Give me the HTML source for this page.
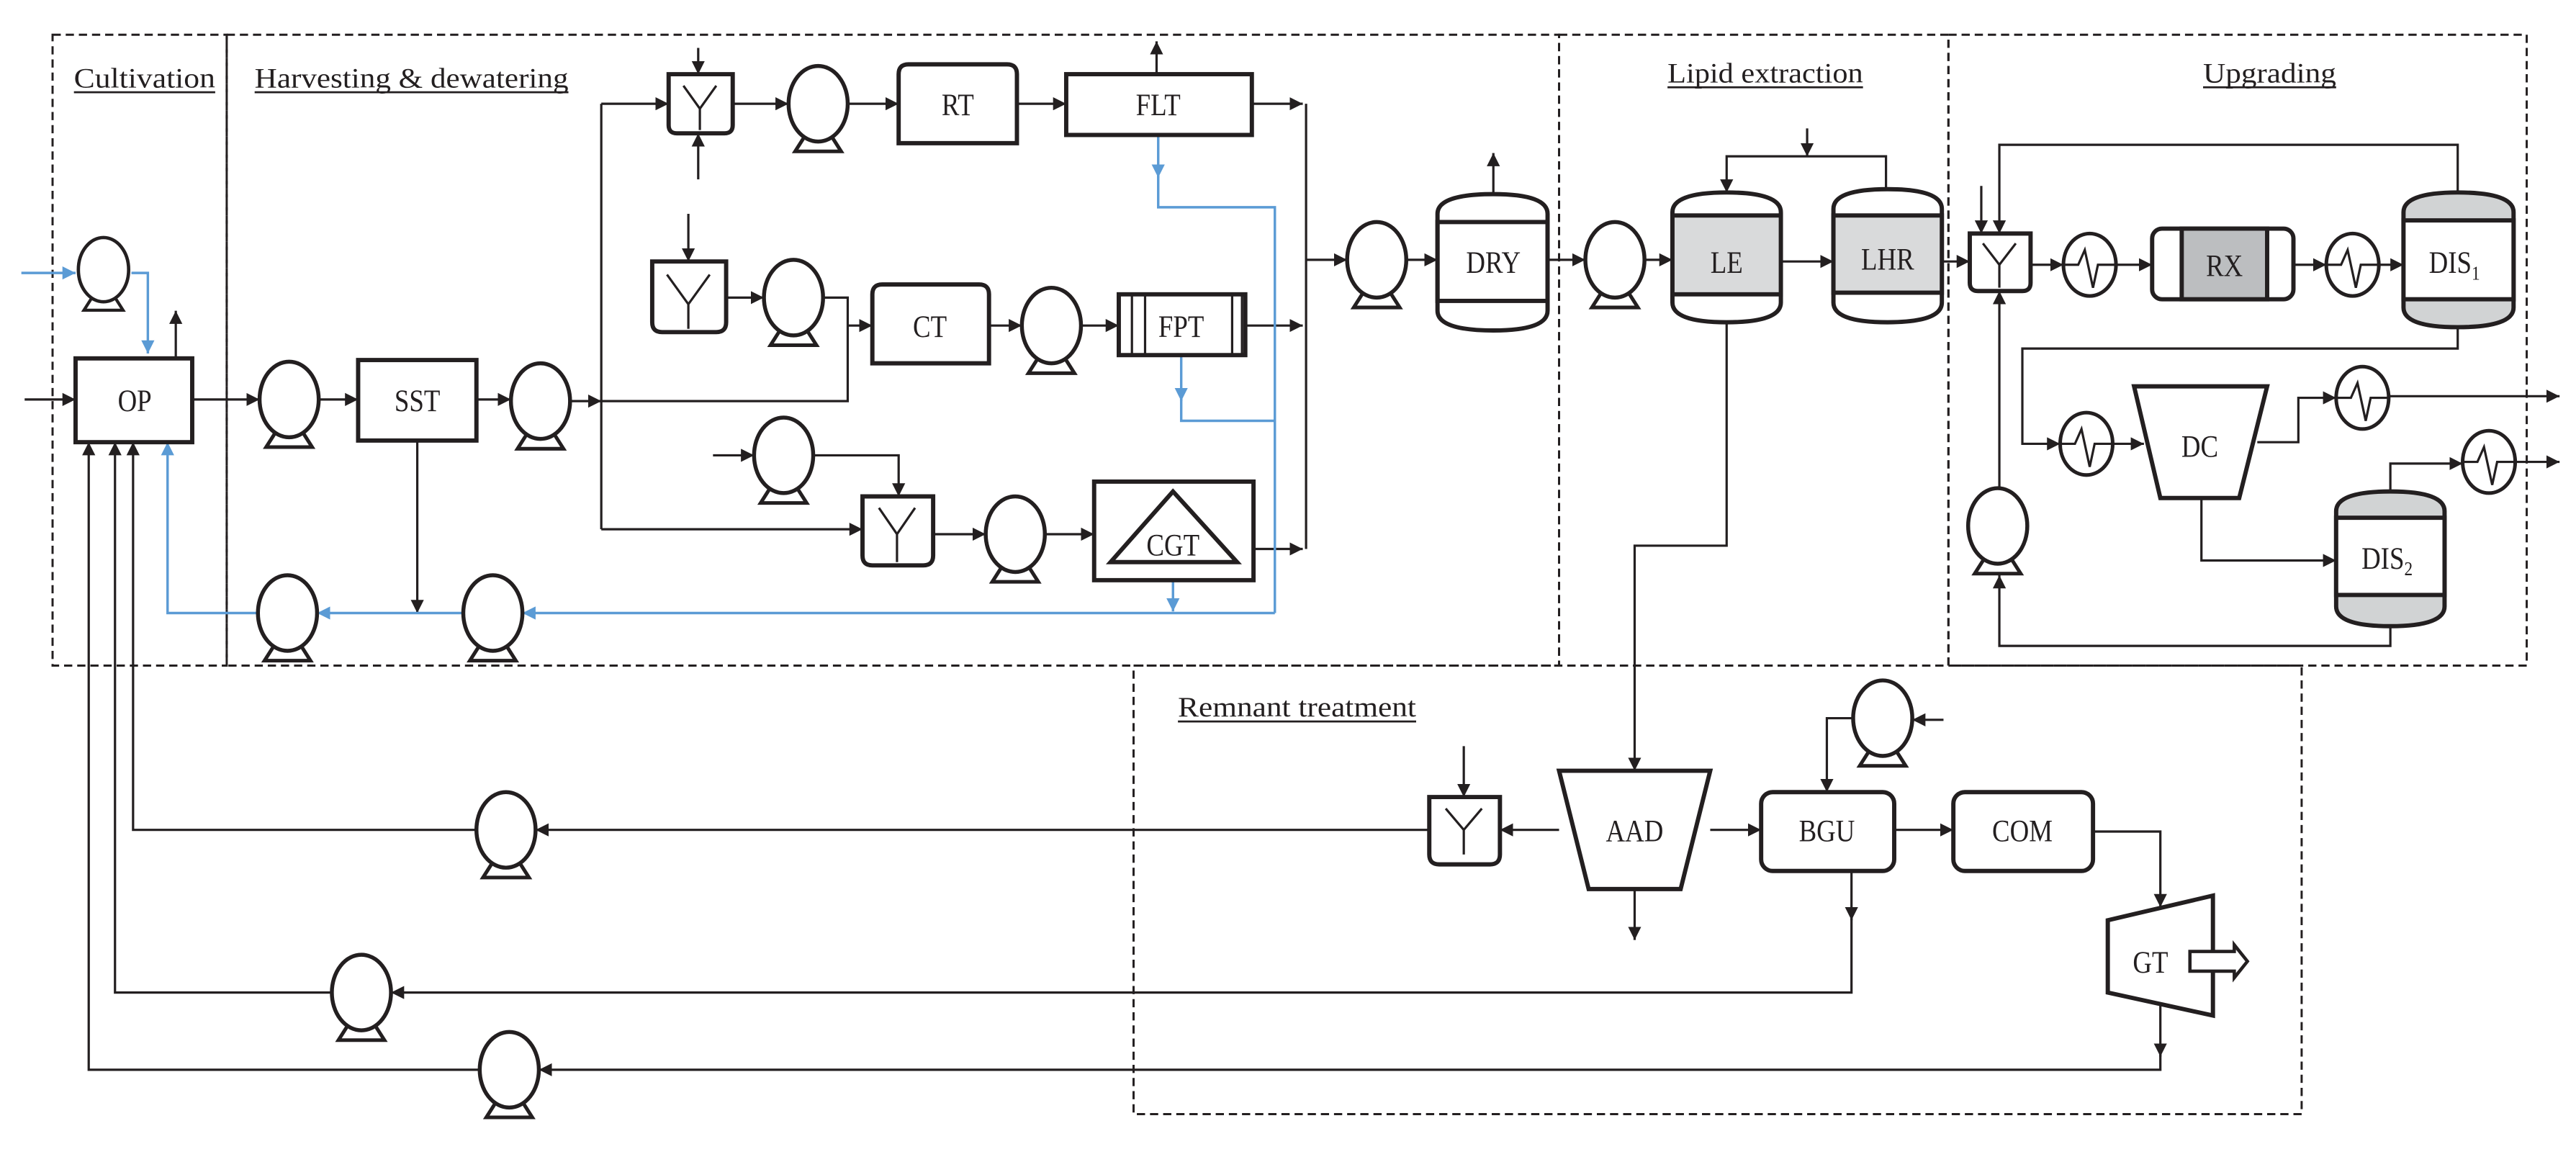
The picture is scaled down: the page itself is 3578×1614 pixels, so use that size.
<!DOCTYPE html>
<html><head><meta charset="utf-8"><style>
html,body{margin:0;padding:0;background:#fff;}
svg{display:block;}
text{font-family:"Liberation Serif",serif;fill:#231f20;}
</style></head><body>
<svg width="3578" height="1614" viewBox="0 0 1568 707" xmlns="http://www.w3.org/2000/svg">
<defs>
<marker id="a" viewBox="0 0 10 10" refX="10" refY="5" markerWidth="8" markerHeight="8" markerUnits="userSpaceOnUse" orient="auto"><path d="M0,0 L10,5 L0,10 z" fill="#231f20"/></marker>
<marker id="b" viewBox="0 0 10 10" refX="10" refY="5" markerWidth="8" markerHeight="8" markerUnits="userSpaceOnUse" orient="auto"><path d="M0,0 L10,5 L0,10 z" fill="#5b9bd5"/></marker>
<g id="pump"><path d="M-7,18 L7,18 L14,29 L-14,29 Z" fill="#fff" stroke="#231f20" stroke-width="2.2"/><ellipse cx="0" cy="0" rx="18" ry="23" fill="#fff" stroke="#231f20" stroke-width="2.4"/></g>
<g id="hx"><ellipse cx="0" cy="0" rx="16" ry="19" fill="#fff" stroke="#231f20" stroke-width="2.2"/><polyline points="-16,0 -7,0 -3,-9 2,14 5,0 16,0" fill="none" stroke="#231f20" stroke-width="1.4"/></g>
</defs>

<g fill="none" stroke="#231f20" stroke-width="1.3" stroke-dasharray="5,3">
<rect x="32" y="21" width="106" height="384"/>
<rect x="138" y="21" width="811" height="384"/>
<rect x="949" y="21" width="237" height="384"/>
<rect x="1186" y="21" width="352" height="384"/>
<rect x="690" y="405" width="711" height="273"/>
</g>

<g font-size="17">
<text x="45" y="53" textLength="86" lengthAdjust="spacingAndGlyphs">Cultivation</text>
<text x="155" y="53" textLength="191" lengthAdjust="spacingAndGlyphs">Harvesting &amp; dewatering</text>
<text x="1015" y="50" textLength="119" lengthAdjust="spacingAndGlyphs">Lipid extraction</text>
<text x="1341" y="50" textLength="81" lengthAdjust="spacingAndGlyphs">Upgrading</text>
<text x="717" y="436" textLength="145" lengthAdjust="spacingAndGlyphs">Remnant treatment</text>
</g>
<g stroke="#231f20" stroke-width="1.2">
<line x1="45" y1="56" x2="131" y2="56"/><line x1="155" y1="56" x2="346" y2="56"/>
<line x1="1015" y1="53" x2="1134" y2="53"/><line x1="1341" y1="53" x2="1422" y2="53"/>
<line x1="717" y1="439" x2="862" y2="439"/>
</g>

<g fill="none" stroke="#231f20" stroke-width="1.4">
<path d="M15,243 H46" marker-end="url(#a)"/>
<path d="M107,218 V189" marker-end="url(#a)"/>
<path d="M117,243 H158" marker-end="url(#a)"/>
<path d="M194,243 H218" marker-end="url(#a)"/>
<path d="M290,243 H311" marker-end="url(#a)"/>
<path d="M347,244 H366" marker-end="url(#a)"/>
<path d="M366,63 V322"/>
<path d="M366,63 H407" marker-end="url(#a)"/>
<path d="M425,29 V45" marker-end="url(#a)"/>
<path d="M425,109 V81" marker-end="url(#a)"/>
<path d="M446,63 H480" marker-end="url(#a)"/>
<path d="M516,63 H547" marker-end="url(#a)"/>
<path d="M619,63 H649" marker-end="url(#a)"/>
<path d="M704,45 V25" marker-end="url(#a)"/>
<path d="M762,63 H793" marker-end="url(#a)"/>
<path d="M795,63 V334"/>
<path d="M795,158 H820" marker-end="url(#a)"/>
<path d="M419,130 V159" marker-end="url(#a)"/>
<path d="M442,181 H465" marker-end="url(#a)"/>
<path d="M501,181 H516 V244 H366"/>
<path d="M516,198 H531" marker-end="url(#a)"/>
<path d="M602,198 H622" marker-end="url(#a)"/>
<path d="M658,198 H681" marker-end="url(#a)"/>
<path d="M758,198 H793" marker-end="url(#a)"/>
<path d="M434,277 H459" marker-end="url(#a)"/>
<path d="M495,277 H547 V302" marker-end="url(#a)"/>
<path d="M366,322 H525" marker-end="url(#a)"/>
<path d="M568,325 H600" marker-end="url(#a)"/>
<path d="M636,325 H666" marker-end="url(#a)"/>
<path d="M763,334 H793" marker-end="url(#a)"/>
<path d="M254,268 V373" marker-end="url(#a)"/>
<path d="M856,158 H875" marker-end="url(#a)"/>
<path d="M909,118 V93" marker-end="url(#a)"/>
<path d="M942,158 H965" marker-end="url(#a)"/>
<path d="M1001,158 H1018" marker-end="url(#a)"/>
<path d="M1084,159 H1116" marker-end="url(#a)"/>
<path d="M1148,115 V95 H1051 V117" marker-end="url(#a)"/>
<path d="M1100,78 V95" marker-end="url(#a)"/>
<path d="M1182,159 H1199" marker-end="url(#a)"/>
<path d="M1206,113 V142" marker-end="url(#a)"/>
<path d="M1496,116 V88 H1217 V142" marker-end="url(#a)"/>
<path d="M1236,161 H1256" marker-end="url(#a)"/>
<path d="M1288,161 H1310" marker-end="url(#a)"/>
<path d="M1396,161 H1416" marker-end="url(#a)"/>
<path d="M1448,161 H1463" marker-end="url(#a)"/>
<path d="M1496,199 V212 H1231 V270 H1254" marker-end="url(#a)"/>
<path d="M1286,270 H1305" marker-end="url(#a)"/>
<path d="M1374,269 H1399 V242 H1422" marker-end="url(#a)"/>
<path d="M1454,241 H1558" marker-end="url(#a)"/>
<path d="M1340,303 V341 H1422" marker-end="url(#a)"/>
<path d="M1455,299 V282 H1499" marker-end="url(#a)"/>
<path d="M1531,281 H1558" marker-end="url(#a)"/>
<path d="M1455,381 V393 H1217 V350" marker-end="url(#a)"/>
<path d="M1217,297 V177" marker-end="url(#a)"/>
<path d="M1051,196 V332 H995 V469" marker-end="url(#a)"/>
<path d="M995,541 V572" marker-end="url(#a)"/>
<path d="M949,505 H913" marker-end="url(#a)"/>
<path d="M870,505 H326" marker-end="url(#a)"/>
<path d="M290,505 H81 V269" marker-end="url(#a)"/>
<path d="M891,454 V485" marker-end="url(#a)"/>
<path d="M1041,505 H1072" marker-end="url(#a)"/>
<path d="M1153,505 H1189" marker-end="url(#a)"/>
<path d="M1274,506 H1315 V552" marker-end="url(#a)"/>
<path d="M1183,438 H1164" marker-end="url(#a)"/>
<path d="M1128,437 H1112 V482" marker-end="url(#a)"/>
<path d="M1127,530 V560" marker-end="url(#a)"/>
<path d="M1127,558 V604 H238" marker-end="url(#a)"/>
<path d="M202,604 H70 V269" marker-end="url(#a)"/>
<path d="M1315,612 V643" marker-end="url(#a)"/>
<path d="M1315,641 V651 H328" marker-end="url(#a)"/>
<path d="M292,651 H54 V269" marker-end="url(#a)"/>
</g>

<g fill="none" stroke="#5b9bd5" stroke-width="1.5">
<path d="M13,166 H46" marker-end="url(#b)"/>
<path d="M80,166 H90 V215" marker-end="url(#b)"/>
<path d="M705,82 V108" marker-end="url(#b)"/>
<path d="M705,106 V126 H776 V373"/>
<path d="M719,216 V244" marker-end="url(#b)"/>
<path d="M719,242 V256 H776"/>
<path d="M714,353 V372" marker-end="url(#b)"/>
<path d="M776,373 H318" marker-end="url(#b)"/>
<path d="M282,373 H193" marker-end="url(#b)"/>
<path d="M157,373 H102 V269" marker-end="url(#b)"/>
</g>

<use href="#pump" transform="translate(63,164) scale(0.85)"/>
<use href="#pump" x="176" y="243"/>
<use href="#pump" x="329" y="244"/>
<use href="#pump" x="498" y="63"/>
<use href="#pump" x="483" y="181"/>
<use href="#pump" x="640" y="198"/>
<use href="#pump" x="477" y="277"/>
<use href="#pump" x="618" y="325"/>
<use href="#pump" x="300" y="373"/>
<use href="#pump" x="175" y="373"/>
<use href="#pump" x="838" y="158"/>
<use href="#pump" x="983" y="158"/>
<use href="#pump" x="1216" y="320"/>
<use href="#pump" x="1146" y="437"/>
<use href="#pump" x="308" y="505"/>
<use href="#pump" x="220" y="604"/>
<use href="#pump" x="310" y="651"/>

<use href="#hx" x="1272" y="161"/>
<use href="#hx" x="1432" y="161"/>
<use href="#hx" x="1270" y="270"/>
<use href="#hx" x="1438" y="242"/>
<use href="#hx" x="1515" y="281"/>

<g fill="#fff" stroke="#231f20" stroke-width="2.6">
<rect x="46" y="218" width="71" height="51"/>
<rect x="218" y="219" width="72" height="49"/>
<path d="M547,87 V45 Q547,39 553,39 H613 Q619,39 619,45 V87 Z"/>
<rect x="649" y="45" width="113" height="37"/>
<path d="M531,221 V179 Q531,173 537,173 H596 Q602,173 602,179 V221 Z"/>
<rect x="681" y="179" width="77" height="37"/>
<rect x="666" y="293" width="97" height="60"/>
<path d="M407,45 H446 V76 Q446,81 441,81 H412 Q407,81 407,76 Z"/>
<path d="M397,159 H442 V196 Q442,202 436,202 H403 Q397,202 397,196 Z"/>
<path d="M525,302 H568 V338 Q568,344 562,344 H531 Q525,344 525,338 Z"/>
<path d="M1199,142 H1236 V172 Q1236,177 1231,177 H1204 Q1199,177 1199,172 Z"/>
<path d="M870,485 H913 V520 Q913,526 907,526 H876 Q870,526 870,520 Z"/>
<path d="M875,130 Q875,118 909,118 Q942,118 942,130 V189 Q942,201 909,201 Q875,201 875,189 Z"/>
<path d="M1018,129 Q1018,117 1051,117 Q1084,117 1084,129 V184 Q1084,196 1051,196 Q1018,196 1018,184 Z"/>
<path d="M1116,127 Q1116,115 1149,115 Q1182,115 1182,127 V184 Q1182,196 1149,196 Q1116,196 1116,184 Z"/>
<rect x="1310" y="139" width="86" height="43" rx="6"/>
<path d="M1463,129 Q1463,117 1496,117 Q1530,117 1530,129 V187 Q1530,199 1496,199 Q1463,199 1463,187 Z" fill="#d1d3d4"/>
<path d="M1422,311 Q1422,299 1455,299 Q1488,299 1488,311 V369 Q1488,381 1455,381 Q1422,381 1422,369 Z" fill="#d1d3d4"/>
<path d="M1299,235 H1380 L1363,303 H1315 Z"/>
<path d="M949,469 H1041 L1023,541 H967 Z"/>
<rect x="1072" y="482" width="81" height="48" rx="7"/>
<rect x="1189" y="482" width="85" height="48" rx="7"/>
<path d="M1283,560 L1347,545 V618 L1283,604 Z"/>
</g>
<g stroke="#231f20" stroke-width="2.6">
<rect x="1018" y="131" width="66" height="48" fill="#d9dadb"/>
<rect x="1116" y="131" width="66" height="47" fill="#d9dadb"/>
<rect x="875" y="135" width="67" height="48" fill="none"/>
<rect x="1463" y="134" width="67" height="48" fill="#fff"/>
<rect x="1422" y="315" width="66" height="47" fill="#fff"/>
<rect x="1328" y="139" width="52" height="43" fill="#bcbec0"/>
</g>
<g stroke="#231f20" stroke-width="1.4" fill="none">
<line x1="689" y1="179" x2="689" y2="216"/><line x1="697" y1="179" x2="697" y2="216"/>
<line x1="750" y1="179" x2="750" y2="216"/><line x1="756" y1="179" x2="756" y2="216"/>
<polygon points="714,299 676,342 753,342" stroke-width="2.6"/>
<path d="M416,52 L426,66 L436,52 M426,66 V79"/>
<path d="M406,167 L419,185 L432,167 M419,185 V200"/>
<path d="M535,309 L546,325 L557,309 M546,325 V342"/>
<path d="M1207,148 L1217,161 L1227,148 M1217,161 V175"/>
<path d="M880,492 L891,505 L902,492 M891,505 V520"/>
<path d="M1333,579 H1360 V575 L1368,585 L1360,595 V591 H1333 Z" fill="#fff" stroke-width="2"/>
</g>

<g font-size="19" text-anchor="middle">
<text x="82" y="250" transform="translate(82,0) scale(0.85,1) translate(-82,0)">OP</text>
<text x="254" y="250" transform="translate(254,0) scale(0.85,1) translate(-254,0)">SST</text>
<text x="583" y="70" transform="translate(583,0) scale(0.85,1) translate(-583,0)">RT</text>
<text x="705" y="70" transform="translate(705,0) scale(0.85,1) translate(-705,0)">FLT</text>
<text x="566" y="205" transform="translate(566,0) scale(0.85,1) translate(-566,0)">CT</text>
<text x="719" y="205" transform="translate(719,0) scale(0.85,1) translate(-719,0)">FPT</text>
<text x="714" y="338" transform="translate(714,0) scale(0.85,1) translate(-714,0)">CGT</text>
<text x="909" y="166" transform="translate(909,0) scale(0.85,1) translate(-909,0)">DRY</text>
<text x="1051" y="166" transform="translate(1051,0) scale(0.85,1) translate(-1051,0)">LE</text>
<text x="1149" y="164" transform="translate(1149,0) scale(0.85,1) translate(-1149,0)">LHR</text>
<text x="1354" y="168" transform="translate(1354,0) scale(0.85,1) translate(-1354,0)">RX</text>
<text x="1494" y="166" transform="translate(1494,0) scale(0.85,1) translate(-1494,0)">DIS<tspan font-size="12" dy="4">1</tspan></text>
<text x="1339" y="278" transform="translate(1339,0) scale(0.85,1) translate(-1339,0)">DC</text>
<text x="1453" y="346" transform="translate(1453,0) scale(0.85,1) translate(-1453,0)">DIS<tspan font-size="12" dy="4">2</tspan></text>
<text x="995" y="512" transform="translate(995,0) scale(0.85,1) translate(-995,0)">AAD</text>
<text x="1112" y="512" transform="translate(1112,0) scale(0.85,1) translate(-1112,0)">BGU</text>
<text x="1231" y="512" transform="translate(1231,0) scale(0.85,1) translate(-1231,0)">COM</text>
<text x="1309" y="592" transform="translate(1309,0) scale(0.85,1) translate(-1309,0)">GT</text>
</g>
</svg>
</body></html>
